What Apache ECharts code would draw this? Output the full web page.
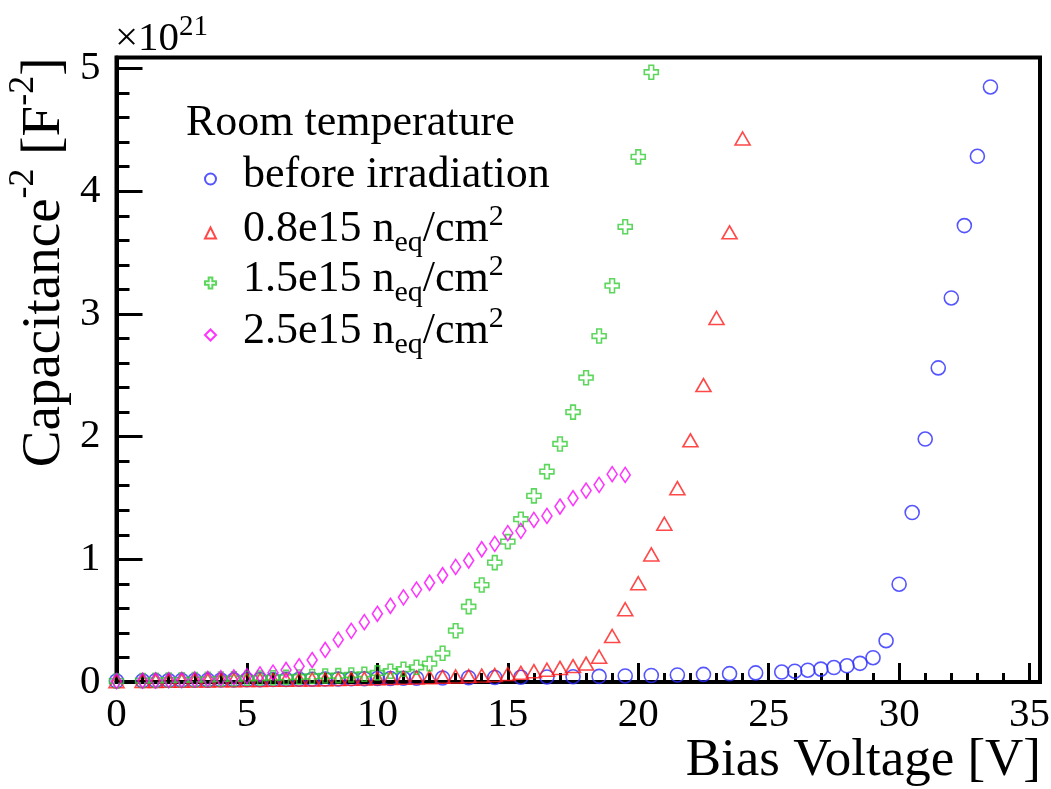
<!DOCTYPE html>
<html>
<head>
<meta charset="utf-8">
<script src="https://cdn.jsdelivr.net/npm/echarts@6/dist/echarts.min.js"></script>
<style>
  html, body { margin: 0; padding: 0; background: #fff; }
  #chart { width: 1051px; height: 789px; }
</style>
</head>
<body>
<div id="chart"></div>
<script>
// [bias voltage (V), capacitance^-2 (x1e21 F^-2)]
var beforeIrr = [
  [0, 0.008], [1, 0.010], [1.5, 0.011], [2, 0.012], [2.5, 0.013], [3, 0.014], [3.5, 0.015],
  [4, 0.016], [4.5, 0.017], [5, 0.018], [5.5, 0.019], [6, 0.020], [6.5, 0.021], [7, 0.022],
  [7.5, 0.023], [8, 0.024], [8.5, 0.025], [9, 0.026], [9.5, 0.027], [10, 0.028], [10.5, 0.029],
  [11, 0.030], [11.5, 0.031], [12.5, 0.033], [13.5, 0.035], [14.5, 0.037], [15.5, 0.039],
  [16.5, 0.041], [17.5, 0.043], [18.5, 0.046], [19.5, 0.049], [20.5, 0.053], [21.5, 0.057],
  [22.5, 0.062], [23.5, 0.068], [24.5, 0.074], [25.5, 0.081], [26, 0.088], [26.5, 0.096],
  [27, 0.105], [27.5, 0.118], [28, 0.132], [28.5, 0.152], [29, 0.198], [29.5, 0.337],
  [30, 0.797], [30.5, 1.381], [31, 1.98], [31.5, 2.56], [32, 3.13], [32.5, 3.72],
  [33, 4.285], [33.5, 4.85]
]
var fluence08 = [
  [0, 0.006], [1, 0.008], [1.5, 0.009], [2, 0.010], [2.5, 0.011], [3, 0.012], [3.5, 0.013],
  [4, 0.014], [4.5, 0.015], [5, 0.016], [5.5, 0.017], [6, 0.018], [6.5, 0.019], [7, 0.020],
  [7.5, 0.021], [8, 0.022], [8.5, 0.024], [9, 0.026], [9.5, 0.028], [10, 0.030], [10.5, 0.032],
  [11, 0.034], [11.5, 0.036], [12, 0.039], [12.5, 0.042], [13, 0.045], [13.5, 0.048],
  [14, 0.052], [14.5, 0.057], [15, 0.065], [15.5, 0.075], [16, 0.088], [16.5, 0.100],
  [17, 0.115], [17.5, 0.130], [18, 0.150], [18.5, 0.206], [19, 0.375], [19.5, 0.593],
  [20, 0.805], [20.5, 1.04], [21, 1.29], [21.5, 1.58], [22, 1.97], [22.5, 2.42],
  [23, 2.967], [23.5, 3.665], [24, 4.43]
]
var fluence15 = [
  [0, 0.008], [1, 0.012], [1.5, 0.014], [2, 0.016], [2.5, 0.018], [3, 0.020], [3.5, 0.022],
  [4, 0.025], [4.5, 0.027], [5, 0.030], [5.5, 0.032], [6, 0.035], [6.5, 0.038], [7, 0.041],
  [7.5, 0.045], [8, 0.049], [8.5, 0.052], [9, 0.057], [9.5, 0.063], [10, 0.074], [10.5, 0.088],
  [11, 0.104], [11.5, 0.120], [12, 0.150], [12.5, 0.234], [13, 0.418], [13.5, 0.614],
  [14, 0.790], [14.5, 0.973], [15, 1.144], [15.5, 1.327], [16, 1.517], [16.5, 1.715],
  [17, 1.94], [17.5, 2.20], [18, 2.48], [18.5, 2.82], [19, 3.23], [19.5, 3.71],
  [20, 4.28], [20.5, 4.97]
]
var fluence25 = [
  [0, 0.008], [1, 0.012], [1.5, 0.014], [2, 0.016], [2.5, 0.018], [3, 0.021], [3.5, 0.025],
  [4, 0.031], [4.5, 0.038], [5, 0.048], [5.5, 0.062], [6, 0.076], [6.5, 0.098], [7, 0.128],
  [7.5, 0.179], [8, 0.261], [8.5, 0.345], [9, 0.417], [9.5, 0.488], [10, 0.556], [10.5, 0.621],
  [11, 0.690], [11.5, 0.753], [12, 0.809], [12.5, 0.870], [13, 0.938], [13.5, 0.990],
  [14, 1.082], [14.5, 1.126], [15, 1.213], [15.5, 1.232], [16, 1.321], [16.5, 1.354],
  [17, 1.430], [17.5, 1.498], [18, 1.560], [18.5, 1.607], [19, 1.694], [19.5, 1.688]
]

var seriesNames = ['before irradiation', '0.8e15 neq/cm2', '1.5e15 neq/cm2', '2.5e15 neq/cm2']
var legendLabels = {
  'before irradiation': '{h|before irradiation}',
  '0.8e15 neq/cm2': '{h|0.8e15 n}{sub|eq}{t|/cm}{sup|2}',
  '1.5e15 neq/cm2': '{h|1.5e15 n}{sub|eq}{t|/cm}{sup|2}',
  '2.5e15 neq/cm2': '{h|2.5e15 n}{sub|eq}{t|/cm}{sup|2}'
}
var xMajorTicks = [0, 5, 10, 15, 20, 25, 30, 35]
var xMinorTicks = [1, 2, 3, 4, 6, 7, 8, 9, 11, 12, 13, 14, 16, 17, 18, 19, 21, 22, 23, 24,
  26, 27, 28, 29, 31, 32, 33, 34]
var yMajorTicks = [0, 1, 2, 3, 4, 5]
var yMinorTicks = [0.2, 0.4, 0.6, 0.8, 1.2, 1.4, 1.6, 1.8, 2.2, 2.4, 2.6, 2.8,
  3.2, 3.4, 3.6, 3.8, 4.2, 4.4, 4.6, 4.8]

var serif = 'Liberation Serif'
var crossPath = 'path://M1,0 L2,0 L2,1 L3,1 L3,2 L2,2 L2,3 L1,3 L1,2 L0,2 L0,1 L1,1 Z'

function markerStyle(color) {
  return { color: 'rgba(0,0,0,0)', borderColor: color, borderWidth: 1.6 }
}

// one legend box per row so the row spacing can follow the picture
var legendRowTops = [148, 202, 252, 304]
var legends = seriesNames.map(function(name, i) {
  return {
    data: [name],
    orient: 'vertical',
    left: 204,
    top: legendRowTops[i],
    padding: 0,
    itemWidth: 11,
    itemHeight: 11,
    selectedMode: false,
    formatter: function(n) {
      return legendLabels[n]
    },
    textStyle: {
      rich: {
        h: { fontFamily: serif, fontSize: 44, color: '#000', lineHeight: 62, verticalAlign: 'top', padding: [5, 0, 0, 22] },
        t: { fontFamily: serif, fontSize: 44, color: '#000', lineHeight: 62, verticalAlign: 'top', padding: [5, 0, 0, 0] },
        sub: { fontFamily: serif, fontSize: 30, color: '#000', lineHeight: 20, verticalAlign: 'top', padding: [26, 0, 0, 0] },
        sup: { fontFamily: serif, fontSize: 30, color: '#000', lineHeight: 20, verticalAlign: 'top', padding: [0, 0, 0, 0] }
      }
    }
  }
})

var chart = echarts.init(document.getElementById('chart'))

chart.setOption({
  animation: false,
  backgroundColor: '#fff',
  title: {
    text: 'Room temperature',
    left: 186,
    top: 101,
    padding: 0,
    textStyle: { fontFamily: serif, fontSize: 44, fontWeight: 'normal', color: '#000', lineHeight: 44 }
  },
  legend: legends,
  grid: {
    left: 116.5,
    top: 57.5,
    width: 923.5,
    height: 624.5,
    outerBoundsMode: 'none',
    containLabel: false,
    show: true,
    borderColor: '#000',
    borderWidth: 4,
    backgroundColor: 'rgba(0,0,0,0)'
  },
  graphic: [
    {
      type: 'text',
      left: 115,
      top: 1,
      style: {
        text: '{a|×10}{b|21}',
        rich: {
          a: { fontFamily: serif, fontSize: 41, fill: '#000', lineHeight: 64, verticalAlign: 'top', padding: [18, 0, 0, 0] },
          b: { fontFamily: serif, fontSize: 29, fill: '#000', lineHeight: 30, verticalAlign: 'top', padding: [12, 0, 0, 0] }
        }
      }
    },
    {
      type: 'text',
      right: 10,
      top: 735,
      style: {
        text: 'Bias Voltage [V]',
        fontFamily: serif,
        fontSize: 53,
        fill: '#000'
      }
    }
  ],
  xAxis: [
    {
      type: 'value',
      min: 0,
      max: 35.4,
      interval: 5,
      axisLine: { show: true, lineStyle: { color: '#000', width: 4 } },
      axisTick: { show: true, inside: true, length: 19, customValues: xMajorTicks, lineStyle: { color: '#000', width: 3 } },
      axisLabel: { customValues: xMajorTicks, fontFamily: serif, fontSize: 41, color: '#000', margin: 13 },
      splitLine: { show: false }
    },
    {
      type: 'value',
      min: 0,
      max: 35.4,
      position: 'bottom',
      axisLine: { show: false },
      axisTick: { show: true, inside: true, length: 9, customValues: xMinorTicks, lineStyle: { color: '#000', width: 3 } },
      axisLabel: { show: false },
      splitLine: { show: false }
    }
  ],
  yAxis: [
    {
      type: 'value',
      min: 0,
      max: 5.09,
      interval: 1,
      name: '{t|Capacitance}{sup|-2}{t| [F}{sup|-2}{t|]}',
      nameLocation: 'end',
      nameGap: 0,
      nameRotate: 90,
      nameTextStyle: {
        align: 'right', verticalAlign: 'bottom', padding: [0, 0, 44, 0],
        rich: {
          t: { fontFamily: serif, fontSize: 55, color: '#000', lineHeight: 55, verticalAlign: 'bottom' },
          sup: { fontFamily: serif, fontSize: 36, color: '#000', lineHeight: 36, padding: [0, 0, 31, 0], verticalAlign: 'bottom' }
        }
      },
      axisLine: { show: true, lineStyle: { color: '#000', width: 4 } },
      axisTick: { show: true, inside: true, length: 26, customValues: yMajorTicks, lineStyle: { color: '#000', width: 3 } },
      axisLabel: { customValues: yMajorTicks, fontFamily: serif, fontSize: 41, color: '#000', margin: 16 },
      splitLine: { show: false }
    },
    {
      type: 'value',
      min: 0,
      max: 5.09,
      position: 'left',
      axisLine: { show: false },
      axisTick: { show: true, inside: true, length: 13, customValues: yMinorTicks, lineStyle: { color: '#000', width: 3 } },
      axisLabel: { show: false },
      splitLine: { show: false }
    }
  ],
  series: [
    {
      name: seriesNames[0],
      type: 'scatter',
      symbol: 'circle',
      symbolSize: 14,
      itemStyle: markerStyle('#2a2aff'),
      data: beforeIrr
    },
    {
      name: seriesNames[1],
      type: 'scatter',
      symbol: 'triangle',
      symbolSize: [15, 13],
      itemStyle: markerStyle('#ff1a1a'),
      data: fluence08
    },
    {
      name: seriesNames[2],
      type: 'scatter',
      symbol: crossPath,
      symbolSize: 14,
      itemStyle: markerStyle('#33cc33'),
      data: fluence15
    },
    {
      name: seriesNames[3],
      type: 'scatter',
      symbol: 'diamond',
      symbolSize: [10, 15],
      itemStyle: markerStyle('#ff00ff'),
      data: fluence25
    }
  ]
})
</script>
</body>
</html>
